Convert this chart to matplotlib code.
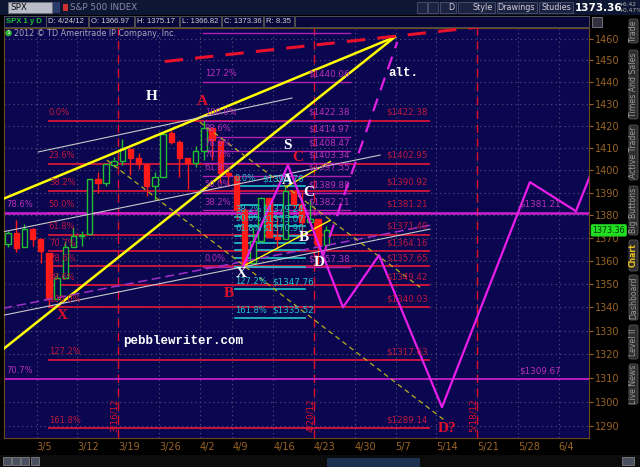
import numpy as np
import matplotlib.pyplot as plt
from matplotlib.patches import Rectangle, FancyBboxPatch, Circle
from matplotlib.ticker import FixedLocator, NullLocator, FixedFormatter

# ---- daily SPX bars, day 0 = 3/5/12 (trading days) ----
bar_day = np.arange(-4, 36)
bar_open = [1367.56, 1372.20, 1365.90, 1374.09, 1369.59, 1363.63, 1343.39, 1352.65, 1365.97, 1370.78,
            1371.92, 1395.95, 1394.17, 1402.55, 1404.17, 1409.59, 1405.52, 1402.89, 1392.78, 1397.11,
            1416.55, 1412.52, 1405.39, 1403.31, 1408.47, 1418.98, 1413.09, 1398.79, 1397.45, 1382.18,
            1358.98, 1368.77, 1387.61, 1370.27, 1369.57, 1390.78, 1385.08, 1376.96, 1378.53, 1366.97]
bar_high = [1373.09, 1378.04, 1376.17, 1374.53, 1369.59, 1363.63, 1354.85, 1368.72, 1374.76, 1373.04,
            1396.13, 1399.42, 1402.63, 1405.88, 1414.00, 1409.59, 1407.75, 1402.89, 1399.18, 1416.58,
            1419.15, 1413.65, 1405.39, 1410.89, 1422.38, 1419.00, 1413.09, 1401.60, 1397.45, 1383.01,
            1374.71, 1388.13, 1387.61, 1379.66, 1392.76, 1390.78, 1390.46, 1387.40, 1378.53, 1375.17]
bar_low = [1365.97, 1363.81, 1365.90, 1366.42, 1359.13, 1340.03, 1343.39, 1352.65, 1365.97, 1366.69,
           1371.92, 1389.97, 1392.78, 1401.47, 1402.43, 1397.68, 1400.64, 1388.73, 1386.87, 1397.11,
           1411.95, 1397.20, 1391.56, 1401.42, 1404.46, 1404.62, 1394.09, 1392.92, 1378.24, 1357.38,
           1358.98, 1368.77, 1369.85, 1365.38, 1369.57, 1383.29, 1370.30, 1376.96, 1358.79, 1366.82]
bar_close = [1372.18, 1365.68, 1374.09, 1369.63, 1364.33, 1343.36, 1352.63, 1365.91, 1370.87, 1371.09,
             1395.95, 1394.28, 1402.60, 1404.17, 1409.75, 1405.52, 1402.89, 1392.78, 1397.11, 1416.51,
             1412.52, 1405.54, 1403.28, 1408.47, 1419.04, 1413.38, 1398.96, 1398.08, 1382.20, 1358.59,
             1368.71, 1387.57, 1370.26, 1369.57, 1390.78, 1385.14, 1376.92, 1378.53, 1366.94, 1373.36]

week_labels = ["3/5", "3/12", "3/19", "3/26", "4/2", "4/9", "4/16", "4/23", "4/30",
               "5/7", "5/14", "5/21", "5/28", "6/4"]
week_start = [0, 5, 10, 15, 20, 24, 29, 34, 39, 44, 49, 54, 59, 64]
price_ticks = list(range(1290, 1461, 10))

event_labels = ["3/16/12", "4/20/12", "5/18/12"]
event_day = [9, 33, 53]

# fib retracement 1340.03 -> 1422.38 (red)
red_pct = ["0.0%", "23.6%", "38.2%", "50.0%", "61.8%", "70.7%", "78.6%", "88.6%", "100.0%", "127.2%", "161.8%"]
red_price = [1422.38, 1402.95, 1390.92, 1381.21, 1371.49, 1364.16, 1357.65, 1349.42, 1340.03, 1317.63, 1289.14]
red_span = (1.0, 47.6)

# fib 1357.38 -> 1422.38 (magenta)
mag_pct = ["161.8%", "127.2%", "100.0%", "88.6%", "78.6%", "70.7%", "61.8%", "50.0%", "38.2%", "0.0%"]
mag_price = [1462.55, 1440.06, 1422.38, 1414.97, 1408.47, 1403.34, 1397.55, 1389.88, 1382.21, 1357.38]
mag_span = (19.9, 37.9)

# fib 1392.76 -> 1357.38 (cyan)
cyan_pct = ["0.0%", "", "38.2%", "50.0%", "61.8%", "", "", "", "", "127.2%", "161.8%"]
cyan_price = [1392.76, 1384.41, 1379.24, 1375.07, 1370.90, 1367.75, 1364.95, 1361.42, 1357.38, 1347.76, 1335.52]
cyan_span = (23.8, 32.4)

# full width magenta levels
wide_pct = ["78.6%", "70.7%"]
wide_price = [1381.21, 1309.67]

# trend lines: (day0, price0, day1, price1)
yellow_thick = [(-4.5, 1387.4, 43.4, 1460.9), (-4.6, 1322.2, 43.4, 1460.9)]
yellow_thin = [(24.8, 1357.7, 35.5, 1377.8), (30.2, 1392.8, 35.5, 1403.9)]
grey_lines = [(-0.3, 1408.2, 30.8, 1432.7), (-4.5, 1372.8, 41.6, 1406.8), (-4.6, 1336.6, 47.7, 1373.9)]
purple_dashed = [(-4.6, 1339.6, 47.7, 1375.6)]
olive_dashed = [(8.1, 1404.6, 49.5, 1292.5), (19.5, 1421.7, 46.5, 1348.6)]
red_dashed = [(15.2, 1449.5, 53.8, 1465.6)]
alt_dashed = [(34.5, 1361.2, 43.7, 1458.6)]

# projected path (magenta)
path_day = [24.8, 30.3, 37.05, 41.46, 49.18, 59.96, 65.6, 67.6]
path_price = [1357.7, 1402.3, 1340.0, 1362.5, 1297.9, 1394.7, 1381.8, 1400.0]

# pattern labels: (text, day, price, colour)
marks = [("H", 13.6, 1433.2, "white"), ("A", 19.8, 1430.9, "#e0102a"), ("S", 30.3, 1410.9, "white"),
         ("C", 31.5, 1405.9, "#e0102a"), ("A", 30.2, 1395.6, "white"), ("C", 32.8, 1390.3, "white"),
         ("B", 32.3, 1370.4, "white"), ("D", 34.2, 1359.5, "white"), ("X", 24.6, 1354.7, "white"),
         ("B", 23.1, 1346.1, "#e0102a"), ("X", 2.6, 1336.6, "#e0102a"), ("D?", 49.8, 1289.2, "#e0102a")]

BG = "#0a0650"
BROWN = "#9a6424"
RED_LINE = "#c8143c"
RED_TXT = "#c0183c"
MAG_LINE = "#b020b0"
MAG_TXT = "#b830b8"
CYAN = "#20c8c8"

fig = plt.figure(figsize=(6.4, 4.67), dpi=100, facecolor="black")
ax = fig.add_axes([4 / 640, (467 - 438) / 467, 585 / 640, 410 / 467], zorder=2)
ax.set_facecolor(BG)
ax.set_yscale("log")
ax.set_xlim(-4.5, 67.2)
ax.set_ylim(1285.2, 1465.1)

ax.yaxis.tick_right()
ax.yaxis.set_major_locator(FixedLocator(price_ticks))
ax.yaxis.set_major_formatter(FixedFormatter([str(p) for p in price_ticks]))
ax.yaxis.set_minor_locator(NullLocator())
ax.xaxis.set_major_locator(FixedLocator([w - 0.5 for w in week_start]))
ax.xaxis.set_major_formatter(FixedFormatter(week_labels))
ax.tick_params(axis="y", colors=BROWN, labelsize=7, length=3, pad=1)
ax.tick_params(axis="x", colors=BROWN, labelsize=7, length=0, pad=3)
for t in ax.get_xticklabels():
    t.set_horizontalalignment("left")
for s in ax.spines.values():
    s.set_color("#6a4a18")
ax.grid(True, color="#55557a", ls=(0, (1, 3)), lw=0.8, zorder=0)
ax.set_axisbelow(True)

# event verticals
for lab, d in zip(event_labels, event_day):
    ax.axvline(d + 0.5, color="#e0102a", ls=(0, (6, 4)), lw=1, zorder=1)
    ax.text(d + 0.05, 1287.7, lab, rotation=90, color="#d8102a", fontsize=6.3,
            ha="center", va="bottom", zorder=6)

# fib sets
for pct, p in zip(red_pct, red_price):
    ax.plot(red_span, [p, p], color=RED_LINE, lw=1.4, zorder=1)
    ax.text(red_span[0], p * 1.0012, pct, color=RED_TXT, fontsize=6, va="bottom", zorder=5)
    ax.text(42.4, p * 1.0012, "$%.2f" % p, color=RED_TXT, fontsize=6.3, va="bottom", zorder=5)

for pct, p in zip(wide_pct, wide_price):
    ax.axhline(p, color="#d020d0", lw=1.8 if p > 1350 else 1.2, zorder=1)
    ax.text(-4.2, p * 1.0012, pct, color=MAG_TXT, fontsize=6, va="bottom", zorder=5)
    ax.text(58.7, p * 1.0012, "$%.2f" % p, color=MAG_TXT, fontsize=6.3, va="bottom", zorder=5)

for pct, p in zip(mag_pct, mag_price):
    ax.plot(mag_span, [p, p], color=MAG_LINE, lw=1.0, zorder=1.5)
    ax.text(20.1, p * 1.0012, pct, color=MAG_TXT, fontsize=6, va="bottom", zorder=5, clip_on=True)
    ax.text(32.8, p * 1.0012, "$%.2f" % p, color=MAG_TXT, fontsize=6.3, va="bottom", zorder=5,
            clip_on=True)

for pct, p in zip(cyan_pct, cyan_price):
    ax.plot(cyan_span, [p, p], color=CYAN, lw=1.2, zorder=1.5)
    if pct:
        ax.text(cyan_span[0], p * 1.001, pct, color=CYAN, fontsize=6, va="bottom", zorder=5)
        ax.text(27.1 if p > 1350 else 28.4, p * 1.001, "$%.2f" % p, color=CYAN, fontsize=6.3,
                va="bottom", zorder=5)

# candles
for d, o, h, l, c in zip(bar_day, bar_open, bar_high, bar_low, bar_close):
    up = c >= o
    col = "#22c030" if up else "#ff1a1a"
    ax.vlines(d, l, h, color=col, lw=1, zorder=3)
    ax.bar(d, max(abs(c - o), 0.4), bottom=min(o, c), width=0.66,
           facecolor=BG if up else col, edgecolor=col, lw=1, zorder=3.5)

# trend lines
for x0, y0, x1, y1 in yellow_thick:
    ax.plot([x0, x1], [y0, y1], color="#ffff00", lw=1.8, zorder=4)
for x0, y0, x1, y1 in yellow_thin:
    ax.plot([x0, x1], [y0, y1], color="#ffff00", lw=1.0, zorder=4)
for x0, y0, x1, y1 in grey_lines:
    ax.plot([x0, x1], [y0, y1], color="#c8c8c8", lw=0.8, zorder=4)
for x0, y0, x1, y1 in purple_dashed:
    ax.plot([x0, x1], [y0, y1], color="#a030c8", lw=1.1, ls=(0, (6, 3)), zorder=4)
for x0, y0, x1, y1 in olive_dashed:
    ax.plot([x0, x1], [y0, y1], color="#b8b020", lw=0.9, ls=(0, (4, 3)), zorder=4)
for x0, y0, x1, y1 in red_dashed:
    ax.plot([x0, x1], [y0, y1], color="#e8102a", lw=2.2, ls=(0, (6, 4)), zorder=4)
for x0, y0, x1, y1 in alt_dashed:
    ax.plot([x0, x1], [y0, y1], color="#e020e0", lw=1.6, ls=(0, (6, 4)), zorder=4)
ax.plot(path_day, path_price, color="#e81ee8", lw=1.6, zorder=4.5)

for txt, d, p, col in marks:
    ax.text(d, p, txt, color=col, fontsize=11, family="Liberation Serif", fontweight="bold",
            ha="center", va="center", zorder=6)
ax.text(44.4, 1444.2, "alt.", color="white", fontsize=9, family="Liberation Mono",
        fontweight="bold", ha="center", va="center", zorder=6)
ax.text(17.4, 1325.5, "pebblewriter.com", color="white", fontsize=9, family="Liberation Mono",
        fontweight="bold", ha="center", va="center", zorder=6)

# last price tag
ax.text(1.006, 1373.36, "1373.36", transform=ax.get_yaxis_transform(), color="#003000",
        fontsize=5.8, va="center", ha="left", zorder=7,
        bbox=dict(boxstyle="round,pad=0.12", fc="#22dd22", ec="#22dd22"))

# ---- window chrome (pixel coordinates) ----
ui = fig.add_axes([0, 0, 1, 1], zorder=5)
ui.set_xlim(0, 640)
ui.set_ylim(467, 0)
ui.axis("off")
ui.patch.set_alpha(0)

ui.add_patch(Rectangle((0, 0), 640, 15, fc="#0d1733", ec="none"))
ui.add_patch(Rectangle((8, 2), 44, 11, fc="#b8bcc8", ec="#707070", lw=0.6))
ui.text(10, 7.5, "SPX", color="#101010", fontsize=6.3, va="center")
ui.add_patch(Rectangle((53, 2), 7, 11, fc="#2b3c6c", ec="none"))
ui.add_patch(Rectangle((63, 4), 5, 7, fc="#d03030", ec="none"))
ui.text(70, 7.5, "S&P 500 INDEX", color="#8a8aa8", fontsize=6.3, va="center")
for bx, bw, lab in [(417, 10, ""), (428, 10, ""), (440, 16, "D"), (458, 37, "Style"),
                    (497, 40, "Drawings"), (539, 34, "Studies")]:
    ui.add_patch(Rectangle((bx, 2), bw, 11, fc="#1b2242", ec="#4a5270", lw=0.6))
    ui.text(bx + bw - 2, 7.5, lab, color="#d0d0d8", fontsize=5.8, va="center", ha="right")
ui.text(575, 8, "1373.36", color="white", fontsize=7.5, fontweight="bold", va="center")
ui.text(618, 4.5, "+6.42", color="#b0b0b0", fontsize=4.2, va="center")
ui.text(618, 11, "+0.47%", color="#b0b0b0", fontsize=4.2, va="center")

row2 = [("SPX 1 y D", 4, 42, "#22c030"), ("D: 4/24/12", 46, 42, "#d0d0d0"),
        ("O: 1366.97", 89, 45, "#d0d0d0"), ("H: 1375.17", 135, 44, "#d0d0d0"),
        ("L: 1366.82", 180, 41, "#d0d0d0"), ("C: 1373.36", 222, 41, "#d0d0d0"),
        ("R: 8.35", 264, 30, "#d0d0d0"), ("", 295, 294, "#d0d0d0")]
for lab, bx, bw, col in row2:
    ui.add_patch(Rectangle((bx, 16), bw, 11, fc="#07073a", ec="#5a5a5a", lw=0.6))
    ui.text(bx + 2, 21.5, lab, color=col, fontsize=5.6, va="center", family="Liberation Sans",
            fontweight="bold" if col == "#22c030" else "normal")
ui.add_patch(Rectangle((592, 17), 10, 10, fc="#303040", ec="#808080", lw=0.6))

ui.add_patch(Circle((8.5, 33), 3.3, fc="#30b030", ec="none"))
ui.text(8.5, 33, "1", color="white", fontsize=4.5, ha="center", va="center")
ui.text(14, 33, "2012 \u00a9 TD Ameritrade IP Company, Inc.", color="#a8a8b8", fontsize=5.8, va="center")

# side tabs
tabs = [("Trade", 18, 44), ("Times And Sales", 49, 120), ("Active Trader", 124, 181),
        ("Big Buttons", 185, 236), ("Chart", 239, 272), ("Dashboard", 274, 321),
        ("Level II", 324, 360), ("Live News", 363, 405)]
for lab, y0, y1 in tabs:
    ui.add_patch(FancyBboxPatch((629, y0 + 1), 9, y1 - y0 - 2, boxstyle="round,pad=0,rounding_size=2",
                                fc="#2e2e2e", ec="#555555", lw=0.6))
    ui.text(633.5, (y0 + y1) / 2, lab, rotation=90, color="#e8c020" if lab == "Chart" else "#9a9a9a",
            fontsize=5.6, ha="center", va="center", fontweight="bold" if lab == "Chart" else "normal")

# bottom bar
ui.add_patch(Rectangle((0, 455), 640, 12, fc="#0c0c0c", ec="none"))
for ix in [3, 12, 21, 31]:
    ui.add_patch(Rectangle((ix, 457), 8, 8, fc="#4a5060", ec="#909090", lw=0.5))
ui.add_patch(Rectangle((327, 458), 93, 9, fc="#1c3050", ec="none"))
ui.add_patch(Rectangle((622, 457), 12, 8, fc="#4a5060", ec="#909090", lw=0.5))

fig.savefig("out.png", dpi=100, facecolor="black")
